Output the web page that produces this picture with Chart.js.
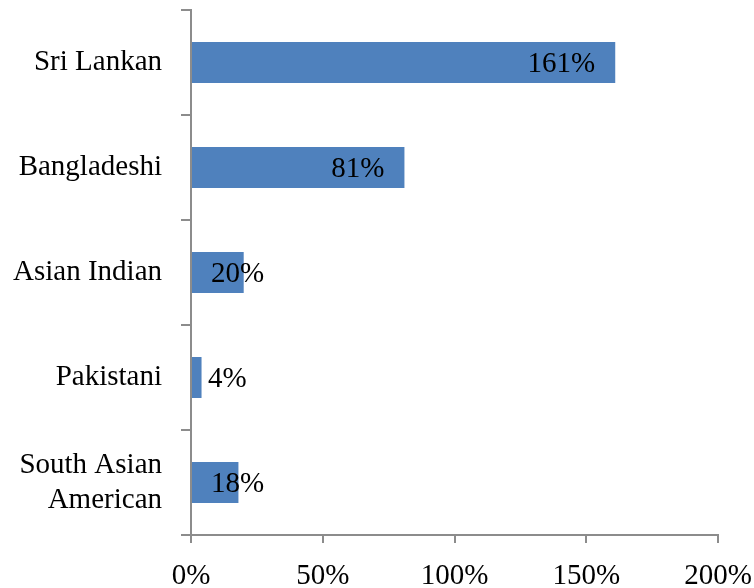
<!DOCTYPE html>
<html>
<head>
<meta charset="utf-8">
<script src="https://cdn.jsdelivr.net/npm/chart.js@4"></script>
<style>
  html, body { margin: 0; padding: 0; background: #fff; }
  #wrap { width: 754px; height: 588px; }
</style>
</head>
<body>
<div id="wrap"><canvas id="growthChart" width="754" height="588"></canvas></div>
<script>
// data
const groups = ['Sri Lankan', 'Bangladeshi', 'Asian Indian', 'Pakistani', ['South Asian', 'American']];
const growth = [161, 81, 20, 4, 18];
const xTicks = [0, 50, 100, 150, 200];

const FONT = 'Liberation Serif';
const axisGrey = '#8c8c8c';

// value labels: right aligned inside bar end, pushed out when bar is too short
const barLabels = {
    id: 'barLabels',
    afterDatasetsDraw(chart) {
        const ctx = chart.ctx;
        const meta = chart.getDatasetMeta(0);
        const left = chart.scales.x.getPixelForValue(0);
        ctx.save();
        ctx.font = '29px "' + FONT + '"';
        ctx.fillStyle = '#000';
        ctx.textBaseline = 'middle';
        ctx.textAlign = 'right';
        meta.data.forEach((bar, i) => {
            const txt = growth[i] + '%';
            const w = ctx.measureText(txt).width;
            let xr = bar.x - 20;
            const minLeft = growth[i] < 10 ? left + 17 : left + 20;
            if (xr - w < minLeft) xr = minLeft + w;
            ctx.fillText(txt, xr, bar.y + 2);
        });
        ctx.restore();
    }
};

const ctx = document.getElementById('growthChart').getContext('2d');
new Chart(ctx, {
    type: 'bar',
    data: {
        labels: groups,
        datasets: [{
            data: growth,
            backgroundColor: '#4f81bd',
            categoryPercentage: 1,
            barPercentage: 0.39
        }]
    },
    plugins: [barLabels],
    options: {
        indexAxis: 'y',
        responsive: false,
        animation: false,
        layout: { padding: { top: 10, right: 0, left: 0, bottom: 0 } },
        plugins: {
            legend: { display: false },
            tooltip: { enabled: false }
        },
        scales: {
            x: {
                min: 0,
                max: 200,
                afterBuildTicks(scale) {
                    scale.ticks = xTicks.map(v => ({ value: v }));
                },
                afterFit(scale) {
                    scale.height = 53;
                    scale.paddingLeft = 0;
                    scale.paddingRight = 36;
                },
                border: { color: axisGrey, width: 2 },
                grid: {
                    drawOnChartArea: false,
                    drawTicks: true,
                    tickLength: 8,
                    color: axisGrey,
                    lineWidth: 2
                },
                ticks: {
                    padding: 16,
                    color: '#000',
                    font: { family: FONT, size: 29 },
                    callback: v => v + '%'
                }
            },
            y: {
                afterFit(scale) {
                    scale.width = 191;
                    scale.paddingTop = 0;
                    scale.paddingBottom = 0;
                },
                border: { color: axisGrey, width: 2 },
                grid: {
                    offset: true,
                    drawOnChartArea: false,
                    drawTicks: true,
                    tickLength: 10,
                    color: axisGrey,
                    lineWidth: 2
                },
                ticks: {
                    padding: 19,
                    color: '#000',
                    font: { family: FONT, size: 29, lineHeight: 1.2 }
                }
            }
        }
    }
});
</script>
</body>
</html>
